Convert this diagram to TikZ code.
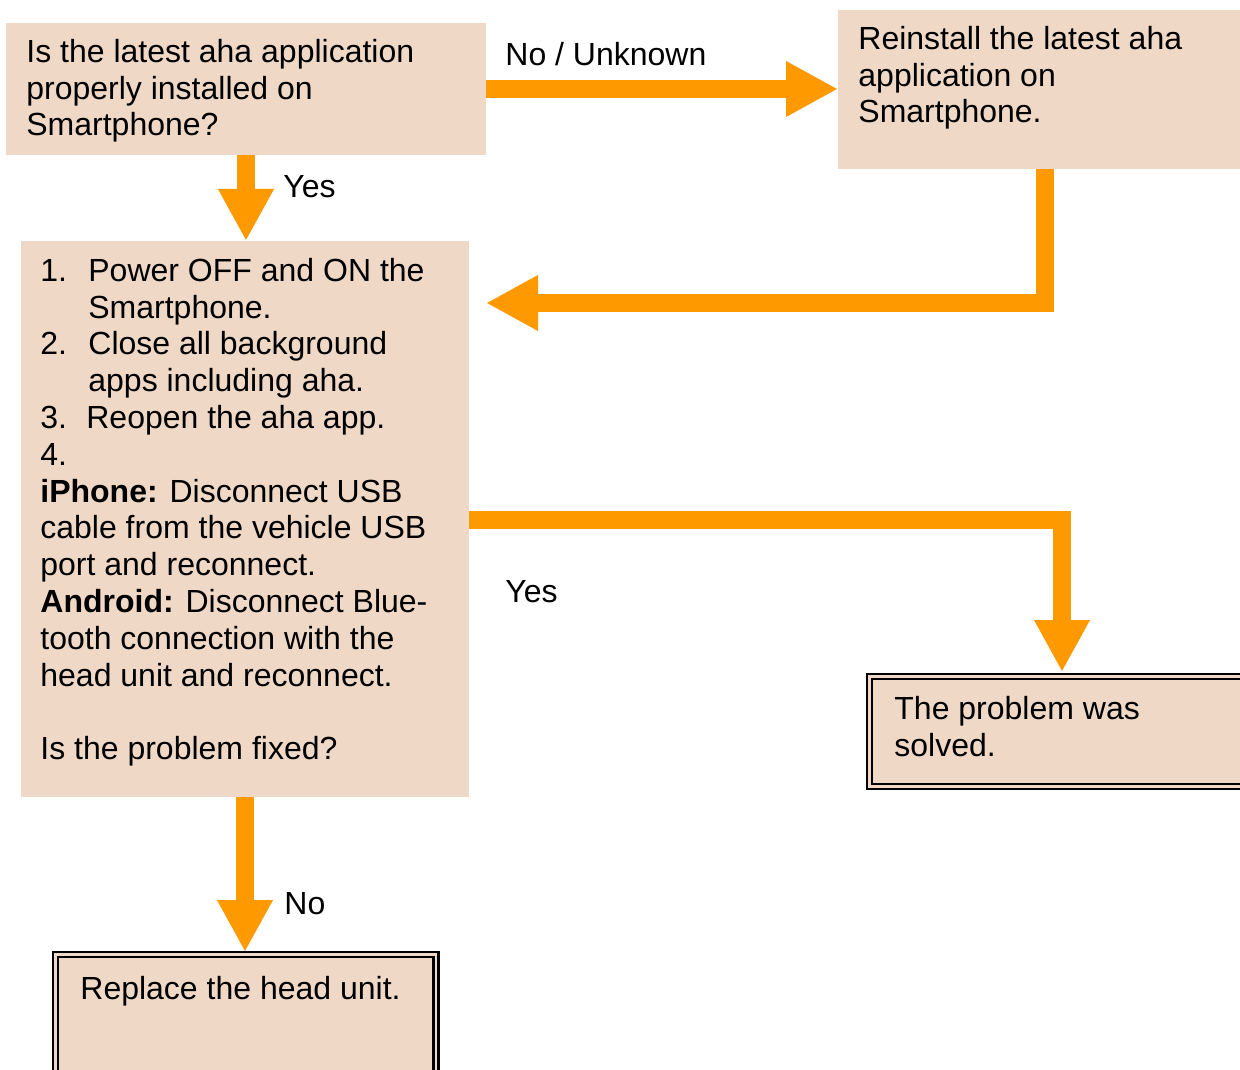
\documentclass[tikz,border=0pt]{standalone}
\usepackage{fontspec}
\setmainfont{Liberation Sans}
\usetikzlibrary{arrows.meta,fit}
\definecolor{boxtan}{RGB}{239,217,198}
\definecolor{arrorange}{RGB}{255,153,0}
\begin{document}
\begin{tikzpicture}[x=0.5pt,y=-0.5pt,
  box/.style={fill=boxtan, inner sep=0pt, outer sep=0pt},
  dbox/.style={fill=boxtan, draw=black, double=boxtan, line width=1.1pt, double distance=1.4pt, inner sep=0pt, outer sep=0pt},
  txt/.style={anchor=north west, inner sep=0pt, align=left, font=\fontsize{16}{18.4}\selectfont},
  flow/.style={draw=arrorange, line width=9pt, -{Triangle[width=26pt,length=26pt]}},
]
\useasboundingbox (0,0) rectangle (1240,1069);
\clip (0,0) rectangle (1240,1069);

% boxes
\node[box, fit={(6,23) (486,155)}] (A) {};
\node[box, fit={(838,10) (1260,169)}] (B) {};
\node[box, fit={(21,241) (469,797)}] (C) {};
\node[dbox, fit={(869.5,676.5) (1270,786.5)}] (D) {};
\node[dbox, fit={(55.5,954.5) (436,1100)}] (E) {};

% texts
\node[txt] (tA) at (26,36.1) {\strut Is the latest aha application\\properly installed on\\Smartphone?};
\node[txt] (tB) at (858,23.1) {\strut Reinstall the latest aha\\application on\\Smartphone.};
\node[txt] (tC) at (40,255.1) {\strut\makebox[24pt][l]{1.}Power OFF and ON the\\
\hspace*{24pt}Smartphone.\\
\makebox[24pt][l]{2.}Close all background\\
\hspace*{24pt}apps including aha.\\
\makebox[23pt][l]{3.}Reopen the aha app.\\
4.\\
\textbf{iPhone:} Disconnect USB\\
cable from the vehicle USB\\
port and reconnect.\\
\textbf{Android:} Disconnect Blue-\\
tooth connection with the\\
head unit and reconnect.\\
\mbox{}\\
Is the problem fixed?};
\node[txt] (tD) at (894,693.1) {\strut The problem was\\solved.};
\node[txt] (tE) at (80,973.1) {\strut Replace the head unit.};

% labels
\node[txt] (l1) at (505,39.1) {\strut No / Unknown};
\node[txt] (l2) at (283,171.1) {\strut Yes};
\node[txt] (l3) at (505,576.1) {\strut Yes};
\node[txt] (l4) at (284,888.1) {\strut No};

% connectors
\coordinate (r3) at (1045,303);
\coordinate (t3) at (486,303);
\coordinate (r4) at (1062,520);
\coordinate (t4) at (1062,672);
\coordinate (t5) at (245,952);
\draw[flow] (A.east) -- (A.east -| B.west);
\draw[flow] (A.south) -- (A.south |- C.north);
\draw[flow] (B.south -| r3) -- (r3) -- (t3);
\draw[flow] (C.east |- r4) -- (r4) -- (t4);
\draw[flow] (C.south) -- (t5);
\end{tikzpicture}
\end{document}
